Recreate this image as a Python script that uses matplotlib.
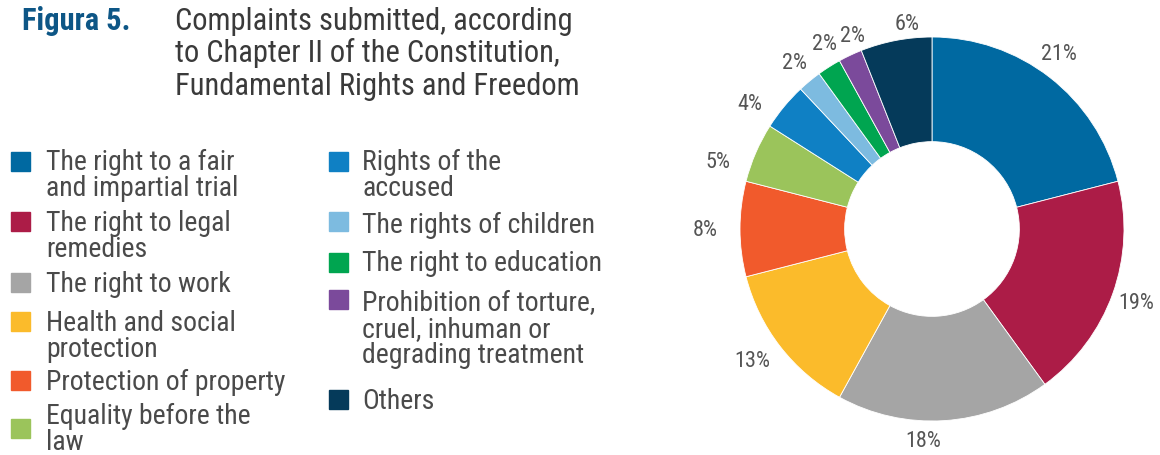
import matplotlib
matplotlib.use("Agg")
import numpy as np
import matplotlib.pyplot as plt
from matplotlib.patches import Rectangle

plt.rcParams["font.family"] = ["Roboto Condensed", "DejaVu Sans"]

# Complaints by right (Chapter II of the Constitution), share in percent
categories = [
    "The right to a fair\nand impartial trial",
    "The right to legal\nremedies",
    "The right to work",
    "Health and social\nprotection",
    "Protection of property",
    "Equality before the\nlaw",
    "Rights of the\naccused",
    "The rights of children",
    "The right to education",
    "Prohibition of torture,\ncruel, inhuman or\ndegrading treatment",
    "Others",
]
shares = [21, 19, 18, 13, 8, 5, 4, 2, 2, 2, 6]
colors = [
    "#0069a1", "#ac1c47", "#a5a5a5", "#fbbb2b", "#f15a2c", "#9bc45b",
    "#0f80c4", "#7dbbe0", "#00a550", "#7b4a9b", "#053a5a",
]

# label placement around the ring: radial distance and small angular nudge (deg)
label_dist = [1.13, 1.13, 1.10, 1.16, 1.18, 1.17, 1.15, 1.125, 1.115, 1.09, 1.08]
label_nudge = [-2, 0, 6, 1.5, 0, -6, -5, 0, 2.4, 3, 4]

W, H = 1160, 456
fig = plt.figure(figsize=(W / 100, H / 100), dpi=100)


def fx(px):
    return px / W


def fy(py):
    return 1 - py / H


# donut
cx, cy, R = 932, 230, 192
span = R * 1.3
ax = fig.add_axes([fx(cx - span), fy(cy + span), 2 * span / W, 2 * span / H])
wedges, texts, pcts = ax.pie(
    shares,
    colors=colors,
    startangle=90,
    counterclock=False,
    radius=1,
    wedgeprops=dict(width=0.545, edgecolor="white", linewidth=0.6),
    autopct=lambda p: f"{p:.0f}%",
    pctdistance=1.12,
    textprops=dict(color="#555555", fontsize=16),
)
total = sum(shares)
mids = (np.cumsum(shares) - np.array(shares) / 2) / total * 360
for t, mid, d, nudge in zip(pcts, mids, label_dist, label_nudge):
    a = np.deg2rad(mid + nudge)
    t.set_position((d * np.sin(a), d * np.cos(a)))
ax.set_xlim(-1.3, 1.3)
ax.set_ylim(-1.3, 1.3)
ax.set_aspect("equal")
ax.axis("off")

# heading
fig.text(fx(22), fy(30), "Figura 5.", fontsize=22, fontweight="bold",
         color="#0d5686", va="baseline")
title_lines = [
    "Complaints submitted, according",
    "to Chapter II of the Constitution,",
    "Fundamental Rights and Freedom",
]
for i, line in enumerate(title_lines):
    fig.text(fx(175), fy(30 + i * 32.5), line, fontsize=22,
             color="#3a3a3a", va="baseline")

# legend, two columns
left_col = dict(sq_x=11, txt_x=46, sq_y=[162, 222, 283, 322, 381, 429],
                txt_y=[170, 231, 292, 331, 390, 424])
right_col = dict(sq_x=329, txt_x=362, sq_y=[162, 222, 263, 300, 400],
                 txt_y=[170, 233, 271, 311, 409])
sq = 19
line_h = 26
idx = 0
for col in (left_col, right_col):
    for sy, ty in zip(col["sq_y"], col["txt_y"]):
        fig.add_artist(Rectangle((fx(col["sq_x"]), fy(sy + sq / 2)), sq / W, sq / H,
                                 transform=fig.transFigure, color=colors[idx]))
        for j, line in enumerate(categories[idx].split("\n")):
            fig.text(fx(col["txt_x"]), fy(ty + j * line_h), line, fontsize=20,
                     color="#4a4a4a", va="baseline")
        idx += 1

fig.savefig("out.png", dpi=100)
